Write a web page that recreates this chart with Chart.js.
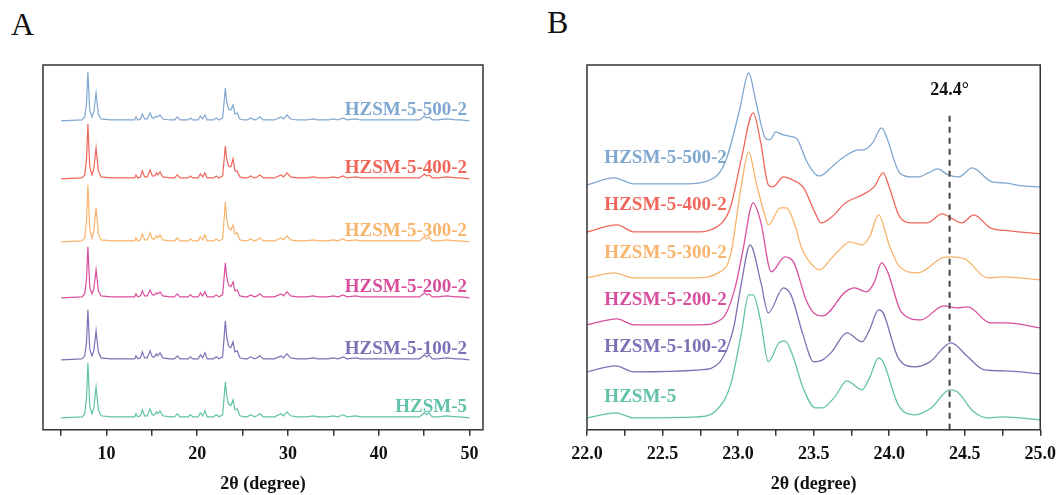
<!DOCTYPE html>
<html>
<head>
<meta charset="utf-8">
<script src="https://cdn.jsdelivr.net/npm/chart.js@4.4.1/dist/chart.umd.min.js"></script>
<style>
  body { margin: 0; background: #fff; width: 1064px; height: 495px; overflow: hidden; position: relative; font-family: 'Liberation Serif', serif; }
  .panel { position: absolute; top: 0; width: 532px; height: 495px; }
  .tag { position: absolute; font-size: 32px; line-height: 1; color: #111; }
</style>
</head>
<body>
<div class="tag" style="left:11px; top:8px">A</div>
<div class="tag" style="left:547px; top:6px">B</div>
<div class="panel" style="left:0"><canvas id="chartA"></canvas></div>
<div class="panel" style="left:532px"><canvas id="chartB"></canvas></div>
<script>
// sample names, bottom to top
const samples = ['HZSM-5', 'HZSM-5-100-2', 'HZSM-5-200-2', 'HZSM-5-300-2', 'HZSM-5-400-2', 'HZSM-5-500-2'];
const colors = ['#62c2aa', '#7b72b6', '#d94f9e', '#f8b46c', '#f0665b', '#7fa7cf'];

// panel A: full pattern, 2theta positions shared by all samples
const thetaA = [5.0, 7.3, 7.6, 7.8, 7.95, 8.15, 8.4, 8.6, 8.85, 9.1,
  9.4, 10.5, 12.5, 13.1, 13.25, 13.45, 13.75, 13.95, 14.2, 14.5,
  14.8, 15.05, 15.3, 15.5, 15.65, 15.9, 16.2, 17.0, 17.5, 17.8,
  18.1, 19.0, 19.25, 19.5, 20.1, 20.35, 20.6, 20.85, 21.1, 21.8,
  22.1, 22.4, 22.8, 23.1, 23.25, 23.45, 23.7, 23.95, 24.15, 24.4,
  24.7, 25.2, 25.5, 25.9, 26.3, 26.6, 26.9, 27.3, 28.5, 29.25,
  29.5, 29.9, 30.3, 31.0, 32.0, 32.8, 33.3, 34.4, 35.0, 35.5,
  36.1, 36.5, 37.5, 38.0, 40.0, 42.0, 44.5, 45.05, 45.3, 45.55,
  45.9, 46.5, 47.5, 48.5, 49.0, 50.0];
// stacking offset of each trace (a.u.)
const offsetsA = [12, 70, 132, 188, 251, 309];
const intA_0 = [0,1,4,20,55,12,4,10,31,8, 2,1,1,1,4,1,2,8,2,2, 9,3,3,6,4,7,2,1,1,4, 1,1,3,1,1,5,2,7,1,1,
  3,1,3,36,22,14,12,18,8,9, 2,1,1,3,1,2,4,1,1,4, 2,6,2,1,1,2,1,1,2,1, 3,1,2,1,1,1,1,5,3,5, 1,1,2,1,1,0];
const intA_100 = [0,1,4,18,50,11,4,9,29,8, 2,1,1,1,4,1,2,8,2,2, 9,3,3,6,4,7,2,1,1,4, 1,1,3,1,1,5,2,7,1,1,
  3,1,3,39,23,14,12,18,8,9, 2,1,1,3,1,2,4,1,1,4, 2,6,2,1,1,2,1,1,2,1, 3,1,2,1,1,1,1,5,3,5, 1,1,2,1,1,0];
const intA_200 = [0,1,4,19,51,11,4,9,28,7, 2,1,1,1,4,1,2,7,2,2, 8,3,3,5,4,6,2,1,1,4, 1,1,3,1,1,5,2,6,1,1,
  3,1,3,35,21,13,11,16,7,8, 2,1,1,3,1,2,4,1,1,4, 2,6,2,1,1,2,1,1,2,1, 3,1,2,1,1,1,1,5,3,4, 1,1,2,1,1,0];
const intA_300 = [0,1,4,21,57,12,4,11,34,8, 2,1,1,1,4,1,2,8,2,2, 9,3,3,6,4,7,2,1,1,4, 1,1,3,1,1,5,2,7,1,1,
  3,1,3,40,23,14,12,17,8,9, 2,1,1,3,1,2,4,1,1,4, 2,6,2,1,1,2,1,1,2,1, 3,1,2,1,1,1,1,5,3,5, 1,1,2,1,1,0];
const intA_400 = [0,1,4,20,55,12,4,10,31,8, 2,1,1,1,4,1,2,8,2,2, 9,3,3,6,4,7,2,1,1,4, 1,1,3,1,1,5,2,6,1,1,
  3,1,3,33,20,13,12,20,8,8, 2,1,1,3,1,2,4,1,1,4, 2,6,2,1,1,2,1,1,2,1, 3,1,2,1,1,1,1,5,3,4, 1,1,2,1,1,0];
const intA_500 = [0,1,4,18,49,11,4,9,28,7, 2,1,1,1,4,1,2,7,2,2, 8,3,3,5,4,6,2,1,1,4, 1,1,3,1,1,5,2,6,1,1,
  3,1,3,33,19,12,11,16,7,8, 2,1,1,3,1,2,4,1,1,4, 2,6,2,1,1,2,1,1,2,1, 3,1,2,1,1,1,1,5,3,4, 1,1,2,1,1,0];
const intensA = [intA_0, intA_100, intA_200, intA_300, intA_400, intA_500];
const ticksA = [5, 10, 15, 20, 25, 30, 35, 40, 45, 50];

// panel B: zoom 22-25 deg, [2theta, intensity incl. offset]
const b_0 = [[22.0,12],[22.19,17],[22.31,12],[22.73,13],[22.86,20],[22.95,45],[23.02,95],[23.07,135],[23.1,135],[23.15,108],
  [23.2,68],[23.27,87],[23.31,89],[23.36,75],[23.43,42],[23.51,22],[23.56,22],[23.64,33],[23.72,49],[23.82,40],
  [23.87,52],[23.93,72],[23.96,68],[24.06,25],[24.17,15],[24.28,22],[24.4,40],[24.45,38],[24.56,18],[24.65,12],[24.75,13],[25.0,10]];
const b_100 = [[22.0,58],[22.19,64],[22.31,58],[22.75,60],[22.88,68],[22.97,102],[23.02,145],[23.08,185],[23.15,148],[23.2,117],
  [23.3,142],[23.35,135],[23.43,95],[23.5,68],[23.56,70],[23.62,78],[23.72,97],[23.82,88],[23.87,100],[23.93,120],
  [23.96,117],[24.06,72],[24.17,63],[24.27,68],[24.41,87],[24.52,73],[24.63,60],[24.76,59],[25.0,56]];
const b_200 = [[22.0,105],[22.2,111],[22.31,105],[22.75,105],[22.9,112],[22.98,142],[23.03,178],[23.1,227],[23.15,208],[23.22,158],
  [23.31,173],[23.37,167],[23.45,130],[23.5,117],[23.56,114],[23.71,138],[23.77,142],[23.85,138],[23.9,147],[23.95,167],
  [23.99,158],[24.08,118],[24.21,110],[24.36,124],[24.45,122],[24.52,123],[24.67,107],[24.78,107],[25.0,102]];
const b_300 = [[22.0,152],[22.18,157],[22.31,152],[22.71,152],[22.88,158],[22.95,175],[23.02,243],[23.07,278],[23.12,247],[23.18,213],
  [23.2,205],[23.28,222],[23.32,222],[23.38,203],[23.42,182],[23.51,162],[23.54,160],[23.62,172],[23.69,183],[23.74,188],
  [23.82,185],[23.87,193],[23.93,215],[24.0,185],[24.07,163],[24.19,157],[24.35,172],[24.4,173],[24.5,171],[24.65,152],[24.75,153],[25.0,150]];
const b_400 = [[22.0,198],[22.2,205],[22.31,198],[22.71,198],[22.86,203],[22.95,223],[23.02,270],[23.1,317],[23.15,287],[23.2,245],
  [23.23,243],[23.3,253],[23.36,250],[23.43,243],[23.51,217],[23.55,207],[23.62,213],[23.71,227],[23.82,235],[23.9,243],
  [23.96,257],[24.0,243],[24.07,213],[24.15,207],[24.25,207],[24.35,216],[24.42,211],[24.48,207],[24.56,215],[24.67,202],[24.8,199],[25.0,196]];
const b_500 = [[22.0,245],[22.18,252],[22.31,246],[22.64,246],[22.84,252],[22.92,270],[23.01,320],[23.07,357],[23.12,327],[23.18,292],
  [23.21,290],[23.25,298],[23.3,295],[23.36,293],[23.39,291],[23.45,270],[23.51,256],[23.54,254],[23.62,263],[23.7,273],
  [23.8,280],[23.83,280],[23.89,287],[23.95,302],[23.98,294],[24.07,257],[24.15,253],[24.19,253],[24.26,257],[24.32,261],
  [24.39,255],[24.46,253],[24.55,262],[24.68,248],[24.76,247],[24.89,244],[25.0,243]];
const seriesB = [b_0, b_100, b_200, b_300, b_400, b_500];
const ticksB = [22, 22.25, 22.5, 22.75, 23, 23.25, 23.5, 23.75, 24, 24.25, 24.5, 24.75, 25];
const markerB = [[24.4, 0], [24.4, 315]];

const serif = 'Liberation Serif';

// frame around the plot area plus text labels in data coordinates
const framePlugin = {
  id: 'frame',
  afterDraw(chart, args, opts) {
    const ctx = chart.ctx;
    const a = chart.chartArea;
    const sx = chart.scales.x, sy = chart.scales.y;
    ctx.save();
    ctx.strokeStyle = '#333';
    ctx.lineWidth = 1.5;
    ctx.strokeRect(a.left, a.top, a.right - a.left, a.bottom - a.top);
    (opts.labels || []).forEach(l => {
      ctx.font = 'bold ' + l.size + 'px "' + serif + '"';
      ctx.fillStyle = l.color;
      ctx.textAlign = l.align;
      ctx.textBaseline = 'middle';
      ctx.fillText(l.text, sx.getPixelForValue(l.x), sy.getPixelForValue(l.y));
    });
    ctx.restore();
  }
};

function xAxis(min, max, ticks, fmt) {
  return {
    type: 'linear', min: min, max: max,
    afterBuildTicks: s => { s.ticks = ticks.map(v => ({ value: v })); },
    ticks: {
      callback: fmt, autoSkip: false, maxRotation: 0, padding: 8, color: '#111',
      font: { family: serif, size: 18, weight: 'bold' }
    },
    grid: { drawOnChartArea: false, drawTicks: true, tickLength: 6, color: '#333', lineWidth: 1.5 },
    border: { display: false },
    title: {
      display: true, text: '2θ (degree)', color: '#111',
      font: { family: serif, size: 18, weight: 'bold' },
      padding: { top: 0, bottom: 0 }
    }
  };
}

const dsA = samples.map((name, k) => ({
  label: name,
  data: thetaA.map((t, i) => ({ x: t, y: offsetsA[k] + intensA[k][i] })),
  borderColor: colors[k], borderWidth: 1.2, pointRadius: 0, tension: 0
}));

new Chart(document.getElementById('chartA'), {
  type: 'line',
  data: { datasets: dsA },
  options: {
    animation: false, responsive: true, maintainAspectRatio: false,
    layout: { padding: { left: 43, right: 49, top: 65, bottom: 0 } },
    plugins: {
      legend: { display: false }, tooltip: { enabled: false },
      frame: {
        labels: samples.map((name, k) => ({ text: name, color: colors[k], align: 'right', size: 19, x: 49.75, y: offsetsA[k] + 11 }))
      }
    },
    scales: {
      x: xAxis(3, 51.5, ticksA, v => (v % 10 === 0 ? String(v) : '')),
      y: { display: false, min: 0, max: 365 }
    }
  },
  plugins: [framePlugin]
});

const labelYB = [33, 83, 130, 177, 225, 272];
const dsB = samples.map((name, k) => ({
  label: name,
  data: seriesB[k].map(p => ({ x: p[0], y: p[1] })),
  borderColor: colors[k], borderWidth: 1.3, pointRadius: 0, cubicInterpolationMode: 'monotone'
}));
dsB.unshift({
  label: '24.4',
  data: markerB.map(p => ({ x: p[0], y: p[1] })),
  borderColor: '#444', borderWidth: 2, borderDash: [6, 5], pointRadius: 0
});

new Chart(document.getElementById('chartB'), {
  type: 'line',
  data: { datasets: dsB },
  options: {
    animation: false, responsive: true, maintainAspectRatio: false,
    layout: { padding: { left: 55, right: 19, top: 65, bottom: 0 } },
    plugins: {
      legend: { display: false }, tooltip: { enabled: false },
      frame: {
        labels: samples.map((name, k) => ({ text: name, color: colors[k], align: 'left', size: 19, x: 22.115, y: labelYB[k] }))
          .concat([{ text: '24.4°', color: '#111', align: 'center', size: 18, x: 24.4, y: 340 }])
      }
    },
    scales: {
      x: xAxis(22, 25, ticksB, v => (Math.round(v * 100) % 50 === 0 ? v.toFixed(1) : '')),
      y: { display: false, min: 0, max: 365 }
    }
  },
  plugins: [framePlugin]
});
</script>
</body>
</html>
